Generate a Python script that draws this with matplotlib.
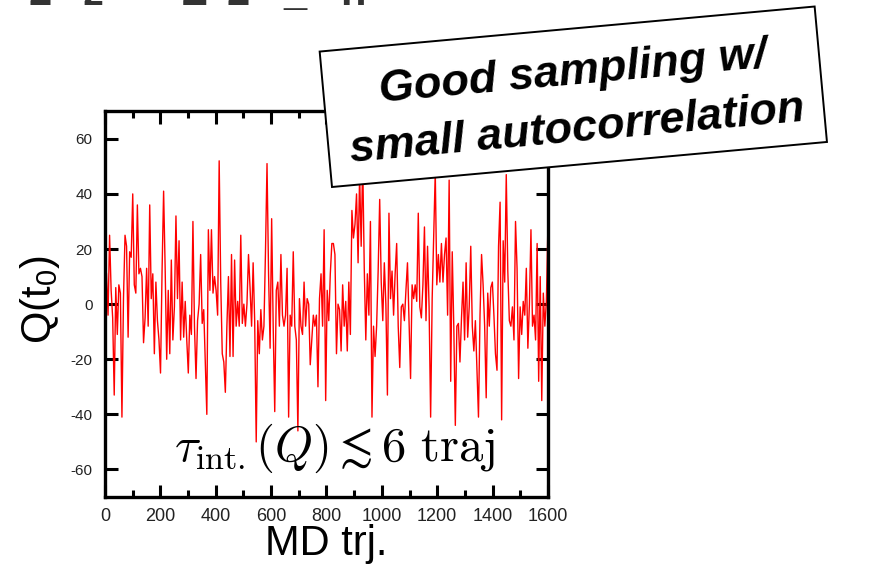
import numpy as np
import matplotlib
matplotlib.use("Agg")
import matplotlib.pyplot as plt
from matplotlib.patches import Rectangle
from matplotlib.ticker import MultipleLocator

plt.rcParams['font.family'] = ['Liberation Sans', 'DejaVu Sans']
plt.rcParams['axes.unicode_minus'] = False

# Q(t0) along the MD trajectory left to right
q_part1 = [15, 11, -4, 25, 5, -5, -33, 6, -11, 7, 4, -41, 2, 25, 21, -12, 19, 17, 40, 7,
           4, 36, 11, 13, 10, -14, -5, 13, -8, 36, 2, 11, -18, 8, -6, -13, -25, 12, 41, 13,
           -20, 5, -18, 16, -13, -1, 32, 2, 23, -13, 8, -12, 1, -13, -25, -4, -11, 30, -8, -27,
           -6, 0, 18, -7, -2, -21, -40, 27, 5, 27, 4, 10, 5]
q_part2 = [-4, 52, 8, -18, -21, -32, -8, 10, -19, 18, -19, 16, -8, 1, -8, 25, -7, 0, -8, 0,
           18, 6, -8, 15, -6, -50, -6, -18, -2, -13, -8, 19, 51, 11, -16, 31, -8, -39, 5, 8,
           -8, 18, -4, -8, -4, 13, -41, -4, -8, 19, -8, -13, -46, 2, -8, -11, 8, -8, 2, 0,
           -22, -13, -4, -8, -4, -30, 2, 11, -8, 27, -35, 5, -6, 11, 22]
q_part3 = [22, 18, -18, 0, -2, -17, 7, -8, 1, -17, 8, -11, 34, 24, 29, 40, 15, 47, 21, 52,
           13, -13, 11, -4, 30, -41, -8, -19, -8, 12, 38, 8, -6, 15, 0, -33, 33, 2, 12, -4,
           11, 22, -8, -23, -1, 0, -6, 5, 15, -6, -27, 7, 2, 7, 1, 33, -1, -5, 7, 28,
           -6, 21, -1, -41, 2, 25, 48, 7, 18, 8]
q_part4 = [22, 8, 18, 24, -4, 45, -28, 19, -8, -44, -8, -7, -21, -5, 8, -13, 15, -12, -1, 21,
           -8, -17, -6, -23, -41, -4, 18, 7, -8, -34, 4, -8, 6, 8, -4, -18, -24, 21, 37, -42,
           23, 8, 47, 12, -6, -8, -1, -13, 30, 13, -27, -1, -11, 1, -4, 13, -16, 0, 27, -8,
           -4, -13, 22, -28, 10, -35, 4, -8, 1, 29]

q_values = np.array(q_part1 + q_part2 + q_part3 + q_part4, dtype=float)
md_traj = np.linspace(0, 1600, len(q_values))

x_ticks = [0, 200, 400, 600, 800, 1000, 1200, 1400, 1600]
y_ticks = [-60, -40, -20, 0, 20, 40, 60]

# bottoms of a line of slide text cut off at the top edge
top_bits = ["2", "z", "Z", "2", "_", "n"]
top_bits_x = [28, 82, 182, 227, 283, 340]

fig = plt.figure(figsize=(8.94, 5.69), dpi=100)
ax = fig.add_axes([0.1174, 0.1265, 0.4955, 0.678])

ax.plot(md_traj, q_values, color='#ff0000', lw=1.0)

ax.set_xlim(0, 1600)
ax.set_ylim(-70, 70)
ax.set_xticks(x_ticks)
ax.set_yticks(y_ticks)
ax.xaxis.set_minor_locator(MultipleLocator(100))
ax.tick_params(which='both', direction='in', top=True, right=True, labelcolor='#222222')
ax.tick_params(axis='x', labelsize=13, pad=8)
ax.tick_params(axis='y', labelsize=11, pad=9)
ax.tick_params(which='major', length=9, width=2.2)
ax.tick_params(which='minor', length=5, width=2.2)
for s in ax.spines.values():
    s.set_linewidth(2.4)

ax.set_xlabel("MD trj.", fontsize=30)
ax.xaxis.set_label_coords(0.5, -0.07)
fig.text(40 / 894, 1 - 300 / 569, "Q(t$_\\mathregular{0}$)", fontsize=30, rotation=90,
         ha='center', va='center')

ax.text(0.518, 0.125, r"$\tau_{\mathrm{int.}}(Q) \lesssim 6\ \mathrm{traj}$",
        transform=ax.transAxes, ha='center', va='center', fontsize=35,
        math_fontfamily='cm', color='black')

# rotated callout box, in pixel units (inches * 100)
box = Rectangle((3.32, 3.82), 4.97, 1.36, angle=5.2, transform=fig.dpi_scale_trans,
                facecolor='white', edgecolor='black', lw=1.4, zorder=5)
fig.add_artist(box)
fig.text(5.75, 4.68, "Good sampling w/\nsmall autocorrelation", transform=fig.dpi_scale_trans,
         rotation=5.2, rotation_mode='anchor', ha='center', va='center',
         fontsize=32.5, fontweight='bold', fontstyle='italic', linespacing=1.5, zorder=6)

for s, xp in zip(top_bits, top_bits_x):
    fig.text(xp / 894, 1 - 5 / 569, s, fontsize=30, fontweight='bold',
             va='baseline', ha='left', color='#333333')

fig.savefig("out.png", dpi=100)
